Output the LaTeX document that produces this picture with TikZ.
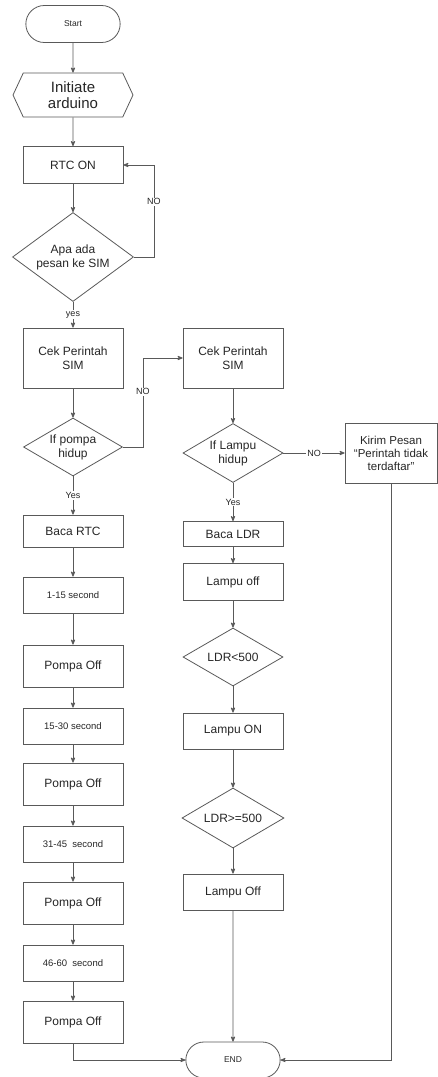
\documentclass[tikz,border=0pt]{standalone}
\usepackage{fontspec}
\setmainfont{Liberation Sans}
\usetikzlibrary{arrows,shapes.geometric,shapes.misc,shapes.symbols,positioning}

\tikzset{
  proc/.style={rectangle,draw,minimum width=100pt,align=center,inner sep=2pt},
  secbox/.style={proc,minimum height=36pt,font=\fontsize{9.5}{11}\selectfont},
  offbox/.style={proc,minimum height=42pt},
  decide/.style={diamond,draw,aspect=1.7,inner sep=0pt,align=center},
  term/.style={rounded rectangle,draw,minimum width=101pt,minimum height=37pt,
               font=\fontsize{8.5}{10}\selectfont},
  prep/.style={signal,signal to=west and east,signal pointer angle=130,draw,
               minimum width=120pt,minimum height=44pt,inner sep=1pt,align=center,
               font=\fontsize{15}{16}\selectfont},
  lbl/.style={fill=white,inner sep=1pt,font=\fontsize{9}{10}\selectfont}
}

\begin{document}
\begin{tikzpicture}[x=1pt,y=-1pt,>=stealth',line width=0.8pt,color=black!65,
                    text=black!85,font=\fontsize{12}{14}\selectfont]
   \useasboundingbox (0,0) rectangle (438,1077);
   % left column
   \node[term] (start) at (73,24) {Start};
   \node[prep] (initArd) [below of=start,node distance=71pt] {Initiate\\arduino};
   \node[proc,minimum height=37pt] (rtcOn) [below of=initArd,node distance=70pt] {RTC ON};
   \node[decide,minimum width=121pt,minimum height=89pt] (apaSim)
        [below of=rtcOn,node distance=92pt] {Apa ada\\pesan ke SIM};
   \node[proc,minimum height=60pt] (cekPompa) [below of=apaSim,node distance=101pt] {Cek Perintah\\SIM};
   \node[decide,minimum width=99pt,minimum height=58pt] (ifPompa)
        [below of=cekPompa,node distance=89pt] {If pompa\\hidup};
   \node[proc,minimum height=32pt] (bacaRtc) [below of=ifPompa,node distance=84pt] {Baca RTC};
   \node[secbox] (sec1) [below of=bacaRtc,node distance=64pt] {1-15 second};
   \node[offbox] (pOff1) [below of=sec1,node distance=71pt] {Pompa Off};
   \node[secbox] (sec2) [below of=pOff1,node distance=60pt] {15-30 second};
   \node[offbox] (pOff2) [below of=sec2,node distance=58pt] {Pompa Off};
   \node[secbox] (sec3) [below of=pOff2,node distance=60pt] {31-45\ \ second};
   \node[offbox] (pOff3) [below of=sec3,node distance=59pt] {Pompa Off};
   \node[secbox] (sec4) [below of=pOff3,node distance=60pt] {46-60\ \ second};
   \node[offbox] (pOff4) [below of=sec4,node distance=59pt] {Pompa Off};
   % right column
   \node[proc,minimum height=60pt] (cekLampu) [right of=cekPompa,node distance=160pt] {Cek Perintah\\SIM};
   \node[decide,minimum width=100pt,minimum height=59pt] (ifLampu)
        [below of=cekLampu,node distance=95pt] {If Lampu\\hidup};
   \node[proc,minimum height=25pt] (bacaLdr) [below of=ifLampu,node distance=81pt] {Baca LDR};
   \node[proc,minimum height=37pt] (lOff1) [below of=bacaLdr,node distance=48pt] {Lampu off};
   \node[decide,minimum width=100pt,minimum height=58pt] (ldrLow)
        [below of=lOff1,node distance=75pt] {LDR<500};
   \node[proc,minimum height=36pt] (lOn) [below of=ldrLow,node distance=74pt] {Lampu ON};
   \node[decide,minimum width=102pt,minimum height=60pt] (ldrHigh)
        [below of=lOn,node distance=87pt] {LDR>=500};
   \node[proc,minimum height=36pt] (lOff2) [below of=ldrHigh,node distance=74pt] {Lampu Off};
   \node[term,minimum height=36pt] (endN) [below of=lOff2,node distance=168pt] {END};
   \node[proc,minimum width=92pt,minimum height=60pt,font=\fontsize{11.5}{13}\selectfont] (kirim)
        [right of=ifLampu,node distance=158pt] {Kirim Pesan\\``Perintah tidak\\terdaftar''};

    \path[->]
    (start) edge (initArd)
    (initArd) edge (rtcOn)
    (rtcOn) edge (apaSim)
    (apaSim) edge node[lbl] {yes} (cekPompa)
    (cekPompa) edge (ifPompa)
    (ifPompa) edge node[lbl] {Yes} (bacaRtc)
    (bacaRtc) edge (sec1)
    (sec1) edge (pOff1)
    (pOff1) edge (sec2)
    (sec2) edge (pOff2)
    (pOff2) edge (sec3)
    (sec3) edge (pOff3)
    (pOff3) edge (sec4)
    (sec4) edge (pOff4)
    (cekLampu) edge (ifLampu)
    (ifLampu) edge node[lbl] {Yes} (bacaLdr)
    (ifLampu) edge node[lbl] {NO} (kirim)
    (bacaLdr) edge (lOff1)
    (lOff1) edge (ldrLow)
    (ldrLow) edge (lOn)
    (lOn) edge (ldrHigh)
    (ldrHigh) edge (lOff2)
    (lOff2) edge (endN);

    \draw[->] (apaSim.east) -- ++(20,0) |- node[lbl,pos=0.3] {NO} (rtcOn.east);
    \draw[->] (ifPompa.east) -- ++(20,0) |- node[lbl,pos=0.31] {NO} (cekLampu.west);
    \draw[->] (pOff4.south) |- (endN.west);
    \draw[->] (kirim.south) |- (endN.east);

\end{tikzpicture}
\end{document}
